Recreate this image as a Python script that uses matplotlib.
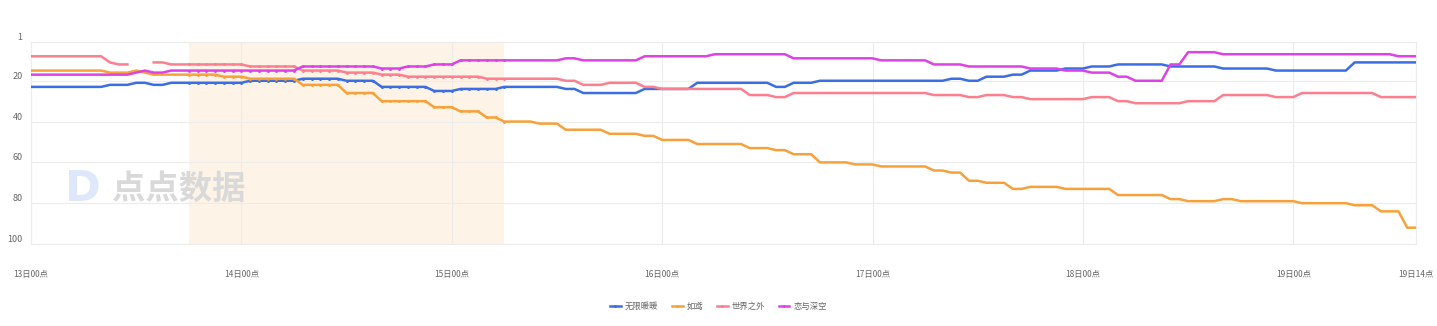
import numpy as np
import matplotlib
matplotlib.use('Agg')
import matplotlib.pyplot as plt

plt.rcParams['font.family'] = ['Noto Sans CJK SC', 'DejaVu Sans']

nan = np.nan

# hourly rank, one row per day (13th 00h .. 19th 14h)
wuxian = [
    23, 23, 23, 23, 23, 23, 23, 23, 23, 22, 22, 22, 21, 21, 22, 22, 21, 21, 21, 21, 21, 21, 21, 21,
    21, 20, 20, 20, 20, 20, 20, 19, 19, 19, 19, 19, 20, 20, 20, 20, 23, 23, 23, 23, 23, 23, 25, 25,
    25, 24, 24, 24, 24, 24, 23, 23, 23, 23, 23, 23, 23, 24, 24, 26, 26, 26, 26, 26, 26, 26, 24, 24,
    24, 24, 24, 24, 21, 21, 21, 21, 21, 21, 21, 21, 21, 23, 23, 21, 21, 21, 20, 20, 20, 20, 20, 20,
    20, 20, 20, 20, 20, 20, 20, 20, 20, 19, 19, 20, 20, 18, 18, 18, 17, 17, 15, 15, 15, 15, 14, 14,
    14, 13, 13, 13, 12, 12, 12, 12, 12, 12, 13, 13, 13, 13, 13, 13, 14, 14, 14, 14, 14, 14, 15, 15,
    15, 15, 15, 15, 15, 15, 15, 11, 11, 11, 11, 11, 11, 11, 11,
]
ruyuan = [
    15, 15, 15, 15, 15, 15, 15, 15, 15, 16, 16, 16, 15, 16, 17, 17, 17, 17, 17, 17, 17, 17, 18, 18,
    18, 19, 19, 19, 19, 19, 19, 22, 22, 22, 22, 22, 26, 26, 26, 26, 30, 30, 30, 30, 30, 30, 33, 33,
    33, 35, 35, 35, 38, 38, 40, 40, 40, 40, 41, 41, 41, 44, 44, 44, 44, 44, 46, 46, 46, 46, 47, 47,
    49, 49, 49, 49, 51, 51, 51, 51, 51, 51, 53, 53, 53, 54, 54, 56, 56, 56, 60, 60, 60, 60, 61, 61,
    61, 62, 62, 62, 62, 62, 62, 64, 64, 65, 65, 69, 69, 70, 70, 70, 73, 73, 72, 72, 72, 72, 73, 73,
    73, 73, 73, 73, 76, 76, 76, 76, 76, 76, 78, 78, 79, 79, 79, 79, 78, 78, 79, 79, 79, 79, 79, 79,
    79, 80, 80, 80, 80, 80, 80, 81, 81, 81, 84, 84, 84, 92, 92,
]
shijie = [
    8, 8, 8, 8, 8, 8, 8, 8, 8, 11, 12, 12, nan, nan, 11, 11, 12, 12, 12, 12, 12, 12, 12, 12,
    12, 13, 13, 13, 13, 13, 13, 15, 15, 15, 15, 15, 16, 16, 16, 16, 17, 17, 17, 18, 18, 18, 18, 18,
    18, 18, 18, 18, 19, 19, 19, 19, 19, 19, 19, 19, 19, 20, 20, 22, 22, 22, 21, 21, 21, 21, 23, 23,
    24, 24, 24, 24, 24, 24, 24, 24, 24, 24, 27, 27, 27, 28, 28, 26, 26, 26, 26, 26, 26, 26, 26, 26,
    26, 26, 26, 26, 26, 26, 26, 27, 27, 27, 27, 28, 28, 27, 27, 27, 28, 28, 29, 29, 29, 29, 29, 29,
    29, 28, 28, 28, 30, 30, 31, 31, 31, 31, 31, 31, 30, 30, 30, 30, 27, 27, 27, 27, 27, 27, 28, 28,
    28, 26, 26, 26, 26, 26, 26, 26, 26, 26, 28, 28, 28, 28, 28,
]
lianyu = [
    17, 17, 17, 17, 17, 17, 17, 17, 17, 17, 17, 17, 16, 15, 16, 16, 15, 15, 15, 15, 15, 15, 15, 15,
    15, 15, 15, 15, 15, 15, 15, 13, 13, 13, 13, 13, 13, 13, 13, 13, 14, 14, 14, 13, 13, 13, 12, 12,
    12, 10, 10, 10, 10, 10, 10, 10, 10, 10, 10, 10, 10, 9, 9, 10, 10, 10, 10, 10, 10, 10, 8, 8,
    8, 8, 8, 8, 8, 8, 7, 7, 7, 7, 7, 7, 7, 7, 7, 9, 9, 9, 9, 9, 9, 9, 9, 9,
    9, 10, 10, 10, 10, 10, 10, 12, 12, 12, 12, 13, 13, 13, 13, 13, 13, 13, 14, 14, 14, 14, 15, 15,
    15, 16, 16, 16, 18, 18, 20, 20, 20, 20, 12, 12, 6, 6, 6, 6, 7, 7, 7, 7, 7, 7, 7, 7,
    7, 7, 7, 7, 7, 7, 7, 7, 7, 7, 7, 7, 8, 8, 8,
]

series_names = ['无限暖暖', '如鸢', '世界之外', '恋与深空']
series_colors = ['#3b6de3', '#f7a13a', '#fb7f8e', '#dc42e6']

tick_hours = [0, 24, 48, 72, 96, 120, 144, 158]
tick_labels = ['13日00点', '14日00点', '15日00点', '16日00点', '17日00点',
               '18日00点', '19日00点', '19日14点']
highlight = (18, 54)  # 13日18点 .. 15日06点

hours = np.arange(len(wuxian))

fig = plt.figure(figsize=(14.37, 3.26), dpi=100)
ax = fig.add_axes([31 / 1437, 82 / 326, 1385 / 1437, 202 / 326])

ax.axvspan(highlight[0], highlight[1], color='#fdf3e6', lw=0, zorder=0)

in_band = [i for i in hours if highlight[0] <= i <= highlight[1]]
for vals, name, col in zip([wuxian, ruyuan, shijie, lianyu], series_names, series_colors):
    ax.plot(hours, vals, color=col, lw=1.8, label=name, zorder=3,
            marker='o', ms=1.1, markevery=in_band, solid_joinstyle='round')

ax.set_xlim(0, 158)
ax.set_ylim(100, 1)
ax.set_yticks([1, 20, 40, 60, 80, 100])
ax.set_xticks(tick_hours)
ax.set_xticklabels(tick_labels)
ax.grid(True, color='#ececec', lw=0.8, zorder=1)
for s in ax.spines.values():
    s.set_color('#ececec')
    s.set_linewidth(0.8)
ax.tick_params(length=0, labelsize=6, colors='#666666')
ax.tick_params(axis='x', pad=19)
ax.tick_params(axis='y', labelsize=6.5, pad=6)
for t in ax.get_yticklabels():
    t.set_verticalalignment('bottom')

# watermark
ax.text(0.0375, 0.27, 'D', transform=ax.transAxes, fontsize=31, fontweight='bold',
        color='#dfe8fb', ha='center', va='center', zorder=2, family='DejaVu Sans')
ax.text(0.107, 0.27, '点点数据', transform=ax.transAxes, fontsize=24, fontweight='bold',
        color='#d9d9d9', ha='center', va='center', zorder=2)

fig.legend(loc='center', bbox_to_anchor=(0.5, 1 - 306 / 326), ncol=4, frameon=False,
           fontsize=6, handlelength=1.3, handletextpad=0.5, columnspacing=1.6,
           labelcolor='#666666')

fig.savefig('out.png', dpi=100)
